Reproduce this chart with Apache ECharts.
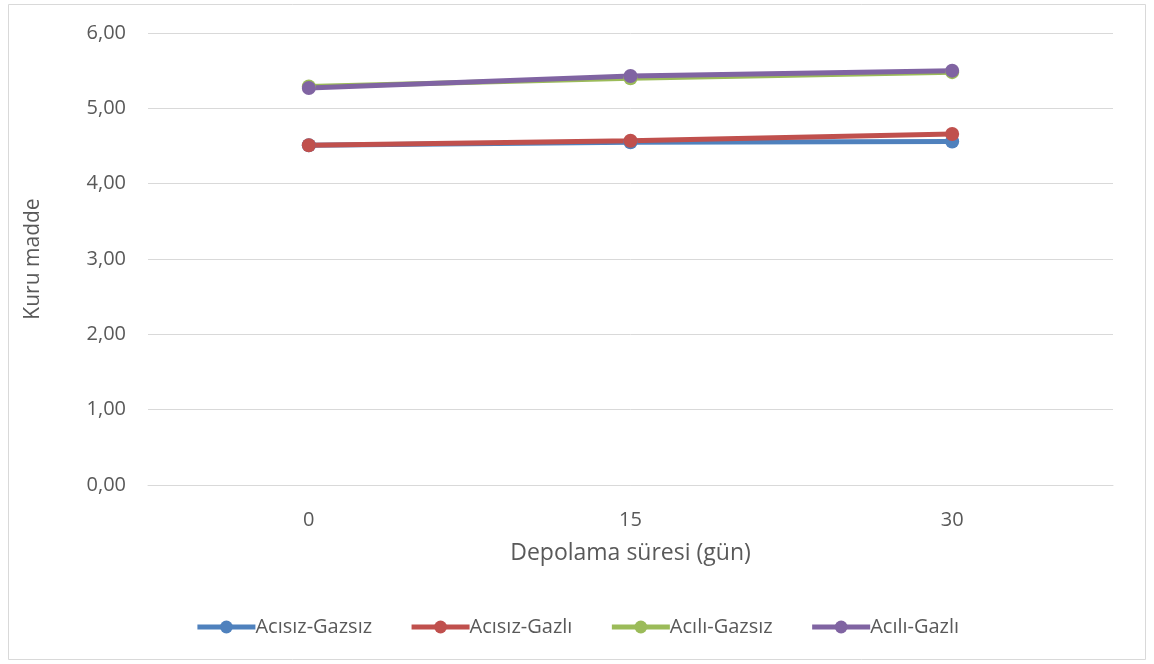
<!DOCTYPE html>
<html>
<head>
<meta charset="utf-8">
<script src="https://cdn.jsdelivr.net/npm/echarts@6/dist/echarts.min.js"></script>
<style>
  html, body { margin: 0; padding: 0; background: #fff; }
  #chart { width: 1154px; height: 664px; }
</style>
</head>
<body>
<div id="chart"></div>
<script>
// Storage days on the x axis
const days = ['0', '15', '30'];

// Dry matter per treatment
const acisizGazsiz = [4.51, 4.55, 4.56];
const acisizGazli = [4.51, 4.57, 4.66];
const aciliGazsiz = [5.29, 5.40, 5.48];
const aciliGazli = [5.27, 5.43, 5.50];

const yTicks = [0, 1, 2, 3, 4, 5, 6];

const fontFamily = '"Open Sans", "Liberation Sans", sans-serif';
const textColor = '#595959';

function lineSeries(name, data, color) {
  return {
    name: name,
    type: 'line',
    data: data,
    symbol: 'circle',
    symbolSize: 14,
    lineStyle: { width: 5, color: color },
    itemStyle: { color: color },
    emphasis: { disabled: true }
  };
}

const chart = echarts.init(document.getElementById('chart'), null, { renderer: 'canvas' });
chart.setOption({
  animation: false,
  backgroundColor: '#fff',
  graphic: [{
    type: 'rect',
    shape: { x: 8.5, y: 4.5, width: 1137, height: 655 },
    style: { fill: 'none', stroke: '#d9d9d9', lineWidth: 1 },
    silent: true
  }],
  grid: { left: 148, right: 41, top: 33, bottom: 179 },
  xAxis: {
    type: 'category',
    data: days,
    boundaryGap: true,
    name: 'Depolama süresi (gün)',
    nameLocation: 'middle',
    nameGap: 57,
    nameTextStyle: { fontSize: 23, color: textColor, fontFamily: fontFamily },
    axisLine: { show: true, lineStyle: { color: '#d9d9d9', width: 1 } },
    axisTick: { show: false },
    axisLabel: { fontSize: 20, color: textColor, fontFamily: fontFamily, margin: 25 }
  },
  yAxis: {
    type: 'value',
    min: yTicks[0],
    max: yTicks[yTicks.length - 1],
    interval: 1,
    name: 'Kuru madde',
    nameLocation: 'middle',
    nameGap: 104,
    nameTextStyle: { fontSize: 21, color: textColor, fontFamily: fontFamily },
    axisLine: { show: false },
    axisTick: { show: false },
    splitLine: { lineStyle: { color: '#d9d9d9', width: 1 } },
    axisLabel: {
      fontSize: 20, color: textColor, fontFamily: fontFamily, margin: 22,
      formatter: v => v.toFixed(2).replace('.', ',')
    }
  },
  legend: {
    bottom: 22,
    left: 'center',
    itemGap: 37,
    itemWidth: 58,
    itemHeight: 16,
    lineStyle: { width: 5 },
    textStyle: { fontSize: 20, color: textColor, fontFamily: fontFamily, padding: [0, 0, 0, -5] },
    data: ['Acısız-Gazsız', 'Acısız-Gazlı', 'Acılı-Gazsız', 'Acılı-Gazlı']
  },
  series: [
    lineSeries('Acısız-Gazsız', acisizGazsiz, '#4F81BD'),
    lineSeries('Acısız-Gazlı', acisizGazli, '#C0504D'),
    lineSeries('Acılı-Gazsız', aciliGazsiz, '#9BBB59'),
    lineSeries('Acılı-Gazlı', aciliGazli, '#8064A2')
  ]
});
</script>
</body>
</html>
